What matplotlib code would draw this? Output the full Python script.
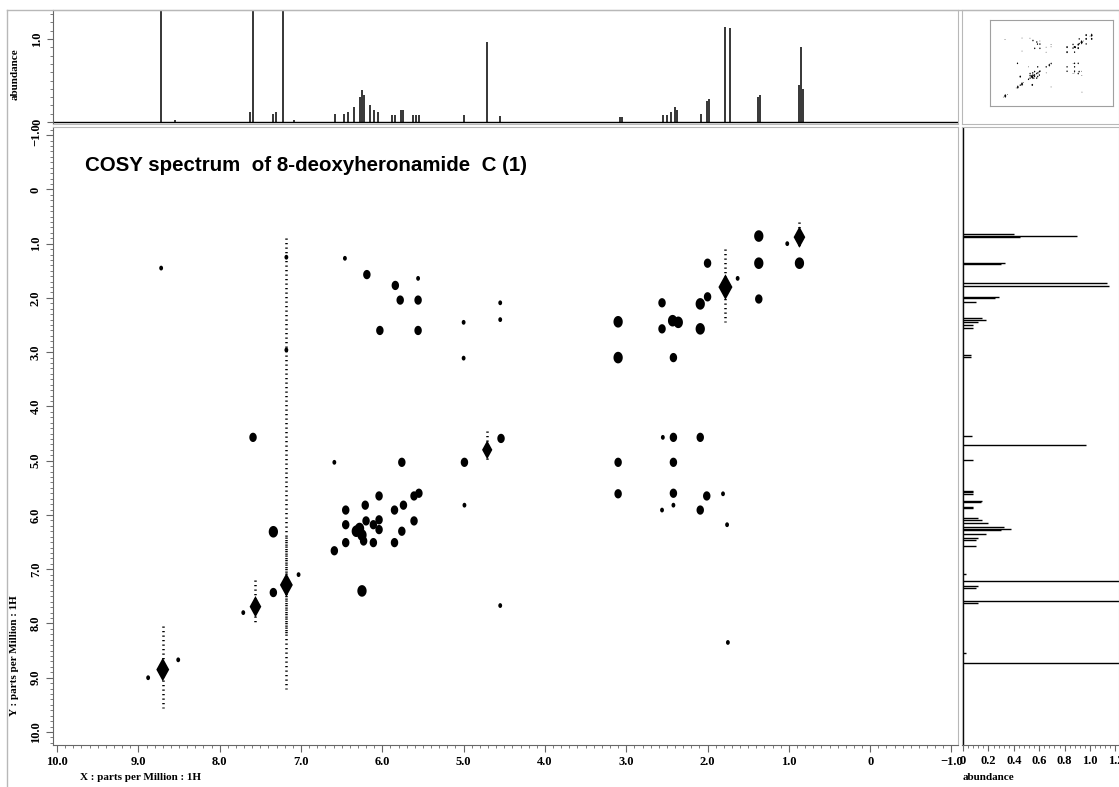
import matplotlib.pyplot as plt
import numpy as np
from matplotlib.lines import Line2D
from matplotlib.ticker import MultipleLocator, FuncFormatter

# 1H spectrum (ppm, abundance)
h_ppm = [8.72, 8.55, 7.63, 7.59, 7.35, 7.31, 7.22, 7.08, 6.58, 6.47, 6.42, 6.35,
         6.28, 6.25, 6.22, 6.15, 6.10, 6.05, 5.88, 5.85, 5.77, 5.74, 5.62, 5.58,
         5.55, 4.99, 4.71, 4.55, 3.08, 3.05, 2.55, 2.50, 2.45, 2.40, 2.37, 2.08,
         2.01, 1.98, 1.78, 1.73, 1.38, 1.35, 0.87, 0.85, 0.83]
h_abund = [1.6, 0.02, 0.12, 1.6, 0.10, 0.12, 1.6, 0.02, 0.10, 0.10, 0.12, 0.18,
           0.30, 0.38, 0.32, 0.20, 0.15, 0.12, 0.08, 0.08, 0.14, 0.15, 0.08, 0.08,
           0.08, 0.08, 0.97, 0.07, 0.06, 0.06, 0.08, 0.08, 0.12, 0.18, 0.15, 0.10,
           0.25, 0.28, 1.15, 1.13, 0.30, 0.33, 0.45, 0.90, 0.40]

# strong diagonal peaks: F2, F1 and relative size
diag_x = [8.70, 7.56, 7.18, 4.71, 1.78, 0.87]
diag_y = [8.85, 7.69, 7.29, 4.80, 1.80, 0.88]
diag_int = [1.1, 0.9, 1.1, 0.7, 1.3, 0.9]

# t1 noise streaks along F1: F2 position, F1 start, F1 end
streak_x = [8.70, 7.56, 7.18, 7.18, 4.71, 1.78, 0.87]
streak_y0 = [8.05, 7.20, 6.40, 0.90, 4.45, 1.10, 0.60]
streak_y1 = [9.55, 8.00, 8.20, 9.20, 5.00, 2.45, 1.10]

# cross / weaker peaks: F2 (x), F1 (y), intensity class 1-3
cross_x = [8.72, 7.18, 7.18, 1.37, 1.02, 0.87, 2.00, 1.37, 1.37, 2.00, 2.09, 2.56,
           3.10, 2.56, 2.43, 2.36, 2.09, 3.10, 2.42, 4.55, 4.55, 1.63,
           6.46, 6.19, 5.84, 5.78, 5.56, 5.56, 6.03, 5.56, 5.00, 5.00,
           7.59, 6.59, 5.76, 4.99, 4.54, 4.99, 3.10, 2.42, 3.10, 2.42, 2.01, 1.81,
           2.42, 2.56, 2.09, 1.76, 2.42, 2.55, 2.09,
           6.45, 6.45, 6.45, 6.21, 6.20, 6.32, 6.25, 6.23, 6.11, 6.11, 6.04, 6.04,
           6.04, 5.85, 5.85, 5.74, 5.76, 5.61, 5.55, 5.61, 6.59, 6.28,
           7.34, 7.34, 7.03, 7.71, 6.25, 4.55, 1.75, 8.88, 8.51]
cross_y = [1.45, 1.25, 2.96, 0.86, 1.00, 1.36, 1.36, 1.36, 2.02, 1.98, 2.11, 2.09,
           2.44, 2.57, 2.42, 2.45, 2.57, 3.10, 3.10, 2.09, 2.40, 1.64,
           1.27, 1.57, 1.77, 2.04, 2.04, 1.64, 2.60, 2.60, 2.45, 3.11,
           4.57, 5.03, 5.03, 5.03, 4.59, 5.82, 5.03, 5.03, 5.61, 5.60, 5.65, 5.61,
           5.82, 5.91, 5.91, 6.18, 4.57, 4.57, 4.57,
           5.91, 6.18, 6.51, 5.82, 6.11, 6.30, 6.37, 6.48, 6.18, 6.51, 5.65, 6.09,
           6.27, 5.91, 6.51, 5.82, 6.30, 5.65, 5.60, 6.11, 6.66, 6.25,
           6.31, 7.43, 7.10, 7.80, 7.40, 7.67, 8.35, 9.00, 8.67]
cross_int = [1, 1, 1, 3, 1, 3, 2, 3, 2, 2, 3, 2,
             3, 2, 3, 3, 3, 3, 2, 1, 1, 1,
             1, 2, 2, 2, 2, 1, 2, 2, 1, 1,
             2, 1, 2, 2, 2, 1, 2, 2, 2, 2, 2, 1,
             1, 1, 2, 1, 2, 1, 2,
             2, 2, 2, 2, 2, 3, 3, 2, 2, 2, 2, 2,
             2, 2, 2, 2, 2, 2, 2, 2, 2, 3,
             3, 2, 1, 1, 3, 1, 1, 1, 1]

W, H = 1119, 787
fig = plt.figure(figsize=(W / 100, H / 100), dpi=100)

def box(l, t, r, b):
    return [l / W, 1 - b / H, (r - l) / W, (b - t) / H]

serif = dict(family='Liberation Serif', weight='bold', size=8)
grey = '#b8b8b8'
dark = '#666666'

def fmt(v, pos):
    if abs(v) < 1e-9:
        return '0'
    return f'{v:.1f}'.replace('-', '\u2212')

def style_labels(labels, rot=0):
    for lab in labels:
        lab.set_fontproperties('Liberation Serif')
        lab.set_fontweight('bold')
        lab.set_fontsize(9)
        if rot:
            lab.set_rotation(rot)
            lab.set_va('center')

theta = np.linspace(0, 2 * np.pi, 30)
ellipse = np.column_stack([0.8 * np.cos(theta), np.sin(theta)])
diamond = [(0, 1), (0.55, 0), (0, -1), (-0.55, 0), (0, 1)]

def draw_2d(ax, scale):
    ax.scatter(cross_x, cross_y, s=np.array([12, 45, 70])[np.array(cross_int) - 1] * scale,
               marker=ellipse, c='black', linewidths=0, zorder=3)
    ax.scatter(diag_x, diag_y, s=np.array(diag_int) * 260 * scale,
               marker=diamond, c='black', linewidths=0, zorder=4)

# main 2D panel
ax = fig.add_axes(box(53, 127, 958, 745))
ax.set_xlim(10.05, -1.08)
ax.set_ylim(10.24, -1.15)
draw_2d(ax, 1.0)
ax.vlines(streak_x, streak_y0, streak_y1, colors='black', linewidth=1.8,
          linestyles=(0, (0.5, 1.3)), zorder=2)
ax.xaxis.set_major_locator(MultipleLocator(1))
ax.xaxis.set_minor_locator(MultipleLocator(0.1))
ax.yaxis.set_major_locator(MultipleLocator(1))
ax.yaxis.set_minor_locator(MultipleLocator(0.1))
ax.xaxis.set_major_formatter(FuncFormatter(fmt))
ax.yaxis.set_major_formatter(FuncFormatter(fmt))
ax.tick_params(which='both', direction='out', colors=dark, labelcolor='black')
ax.tick_params(which='major', length=5, width=0.8, pad=3)
ax.tick_params(which='minor', length=2.5, width=0.6)
style_labels(ax.get_xticklabels())
style_labels(ax.get_yticklabels(), 90)
for side in ['top', 'right']:
    ax.spines[side].set_color(grey)
for side in ['left', 'bottom']:
    ax.spines[side].set_color(dark)
ax.text(0.035, 0.938, 'COSY spectrum  of 8-deoxyheronamide  C (1)', transform=ax.transAxes,
        family='Liberation Sans', weight='bold', fontsize=14.8,
        va='center', ha='left')

# top 1D panel
axt = fig.add_axes(box(53, 10, 958, 124))
axt.set_xlim(10.05, -1.08)
axt.set_ylim(-0.024, 1.35)
axt.vlines(h_ppm, 0, h_abund, colors='black', linewidth=1.1)
axt.axhline(0, color='black', linewidth=1.0)
axt.set_xticks([])
axt.yaxis.set_major_locator(MultipleLocator(1))
axt.yaxis.set_minor_locator(MultipleLocator(0.1))
axt.yaxis.set_major_formatter(FuncFormatter(fmt))
axt.tick_params(which='both', direction='out', colors=dark, labelcolor='black')
axt.tick_params(which='major', length=4, pad=3)
axt.tick_params(which='minor', length=2)
style_labels(axt.get_yticklabels(), 90)
for side in ['top', 'right', 'bottom']:
    axt.spines[side].set_color(grey)
axt.spines['left'].set_color(dark)

# right 1D panel
axr = fig.add_axes(box(962, 127, 1119, 745))
axr.set_ylim(10.24, -1.15)
axr.set_xlim(-0.008, 1.228)
axr.hlines(h_ppm, 0, h_abund, colors='black', linewidth=1.0)
axr.axvline(0, color='black', linewidth=1.0)
axr.set_yticks([])
axr.xaxis.set_major_locator(MultipleLocator(0.2))
axr.xaxis.set_minor_locator(MultipleLocator(0.04))
axr.xaxis.set_major_formatter(FuncFormatter(fmt))
axr.tick_params(which='both', direction='out', colors=dark, labelcolor='black')
axr.tick_params(which='major', length=4, pad=3)
axr.tick_params(which='minor', length=2)
style_labels(axr.get_xticklabels())
for side in ['top', 'right', 'left']:
    axr.spines[side].set_color(grey)
axr.spines['bottom'].set_color(dark)

# top-right overview cell
axc = fig.add_axes(box(962, 10, 1119, 124))
axc.set_xticks([])
axc.set_yticks([])
for side in axc.spines:
    axc.spines[side].set_color(grey)
axi = fig.add_axes(box(990, 20, 1113, 106))
axi.set_xlim(10.08, -1.06)
axi.set_ylim(10.17, -1.12)
draw_2d(axi, 0.03)
axi.set_xticks([])
axi.set_yticks([])
for side in axi.spines:
    axi.spines[side].set_color('#a0a0a0')
    axi.spines[side].set_linewidth(0.8)

# frame lines and labels
fig.add_artist(Line2D([7 / W, 7 / W], [0, 1 - 10 / H], color=grey, linewidth=1))
fig.add_artist(Line2D([7 / W, 1], [1 - 10 / H, 1 - 10 / H], color=grey, linewidth=1))
fig.text(15 / W, 1 - 74 / H, 'abundance', rotation=90, ha='center', va='center', **serif)
fig.text(15 / W, 1 - 656 / H, 'Y : parts per Million : 1H', rotation=90, ha='center',
         va='center', **serif)
fig.text(80 / W, 1 - 777 / H, 'X : parts per Million : 1H', ha='left', va='center', **serif)
fig.text(963 / W, 1 - 777 / H, 'abundance', ha='left', va='center', **serif)

fig.savefig('out.png', dpi=100)
